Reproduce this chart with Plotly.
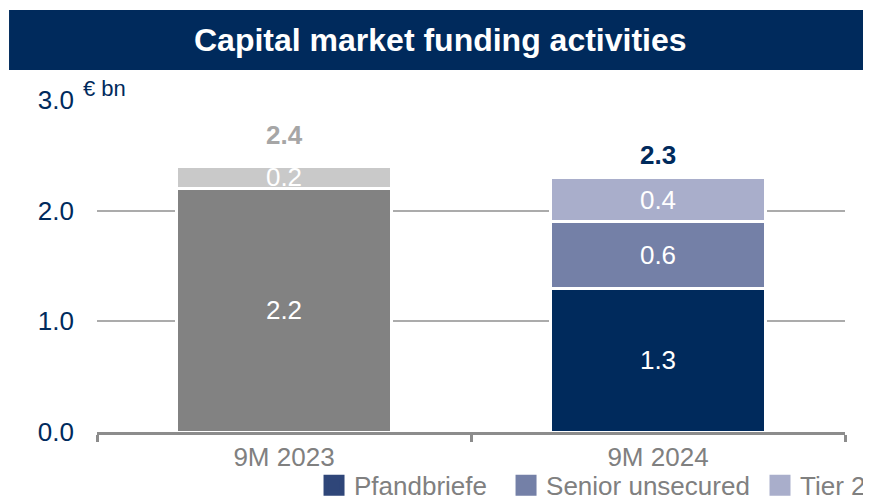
import plotly.graph_objects as go

# datos
periods = ['9M 2023', '9M 2024']
base_2023 = [2.2, None]
add_2023 = [0.2, None]
pfandbriefe = [None, 1.3]
senior_unsecured = [None, 0.6]
tier_2 = [None, 0.4]
totals = [2.4, 2.3]
total_labels = ['2.4', '2.3']

NAVY = '#002a5c'
GREY_TXT = '#808080'

fig = go.Figure()

segments = [
    (base_2023, '#828282'),
    (add_2023, '#c9c9c9'),
    (pfandbriefe, NAVY),
    (senior_unsecured, '#7480a7'),
    (tier_2, '#a9aecb'),
]
for vals, col in segments:
    fig.add_trace(go.Bar(
        x=periods, y=vals,
        marker=dict(color=col, line=dict(color='white', width=3)),
        text=[f'{v:.1f}' if v is not None else '' for v in vals],
        textposition='inside', insidetextanchor='middle', textangle=0,
        textfont=dict(color='white', size=26),
        width=0.575, showlegend=False, hoverinfo='skip'
    ))

# leyenda (solo 9M 2024), una leyenda por elemento para fijar la posición
legend_items = [('Pfandbriefe', '#2f4679'), ('Senior unsecured', '#7480a7'), ('Tier 2', '#a9aecb')]
legend_ids = ['legend', 'legend2', 'legend3']
for (name, col), lid in zip(legend_items, legend_ids):
    fig.add_trace(go.Scatter(
        x=[None], y=[None], mode='markers', name=name, legend=lid,
        marker=dict(symbol='square', size=16, color=col, line=dict(color=col, width=5))
    ))

# totales encima de cada barra
label_colors = ['#a6a6a6', NAVY]
label_shift = [14, 5]
for per, tot, lab, c, s in zip(periods, totals, total_labels, label_colors, label_shift):
    fig.add_annotation(x=per, y=tot, text=lab, showarrow=False, yanchor='bottom', yshift=s,
                       font=dict(size=26, color=c, weight='bold'))

# barra del título
fig.add_shape(type='rect', xref='paper', yref='paper', x0=-0.1176, x1=1.035, y0=1.0904, y1=1.2711,
              fillcolor=NAVY, line=dict(width=0), layer='below')
fig.add_annotation(xref='paper', yref='paper', x=0.4586, y=1.1807, xanchor='center', yanchor='middle',
                   text='Capital market funding activities', showarrow=False,
                   font=dict(size=32, color='white', weight='bold'))
fig.add_annotation(xref='paper', yref='paper', x=-0.022, y=1.036, xanchor='left', yanchor='middle',
                   text='€ bn', showarrow=False, font=dict(size=22, color=NAVY))

legend_style = dict(orientation='h', xref='container', yref='container',
                    y=0.026, yanchor='middle', font=dict(size=26, color=GREY_TXT),
                    bgcolor='rgba(0,0,0,0)')

# la página tiene 8 px de margen: figura de 863x490
fig.update_layout(
    width=863, height=490,
    margin=dict(l=89, r=26, t=92, b=66),
    barmode='stack',
    plot_bgcolor='white', paper_bgcolor='white',
    font=dict(family='Arial, Liberation Sans, sans-serif'),
    uniformtext=dict(minsize=26, mode='show'),
    legend=dict(legend_style, x=0.3546, xanchor='left'),
    legend2=dict(legend_style, x=0.5771, xanchor='left'),
    legend3=dict(legend_style, x=1.0, xanchor='right'),
    xaxis=dict(showline=True, linecolor='#8c8c8c', linewidth=2.5, ticks='outside', tickson='boundaries',
               ticklen=7, tickwidth=2.5, tickcolor='#8c8c8c', tickfont=dict(size=26, color=GREY_TXT),
               showgrid=False, automargin=False),
    yaxis=dict(range=[0, 3], dtick=1, tickformat='.1f', showgrid=True, gridcolor='#ababab', gridwidth=2,
               zeroline=False, tickfont=dict(size=26, color=NAVY), ticklabelstandoff=22, automargin=False),
)

fig.write_html('out.html')
